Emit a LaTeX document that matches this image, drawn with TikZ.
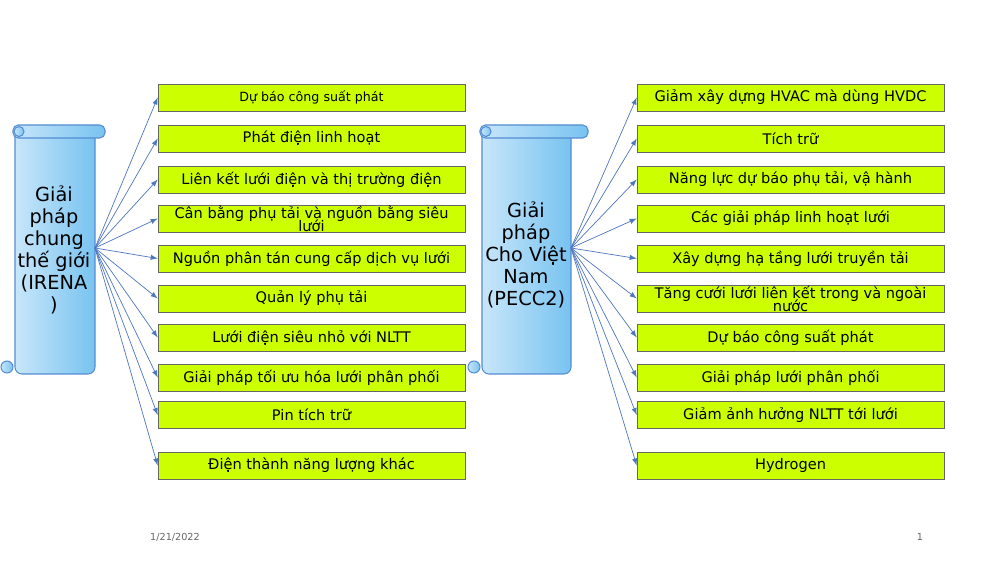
\documentclass[tikz,border=0pt]{standalone}
\usepackage{fontspec}
\setmainfont{DejaVu Sans}
\begin{document}
\begin{tikzpicture}[x=0.02cm,y=-0.02cm,
  box/.style={draw=black!60,fill={rgb,255:red,204;green,255;blue,0},minimum width=6.14cm,minimum height=0.54cm,inner sep=0pt,font=\fontsize{8.3}{8}\selectfont,align=center},
  arr/.style={draw={rgb,255:red,79;green,119;blue,190},-latex,line width=0.4pt},
  scroll/.style={draw={rgb,255:red,84;green,141;blue,212},line width=0.6pt,left color={rgb,255:red,200;green,230;blue,250},right color={rgb,255:red,120;green,195;blue,240}}]
\useasboundingbox (0,0) rectangle (1000,563);
\fill[white] (0,0) rectangle (1000,563);
% scrolls
\foreach \xa/\xb/\xc/\nm in {13/95/105/L,480/571/588/R}{
  \draw[scroll,rounded corners=4] (\xa+2,130) rectangle (\xb,374);
  \draw[scroll,rounded corners=3] (\xa,125) rectangle (\xc,138);
  \draw[scroll] (\xa+6,131.5) circle (5);
  \draw[scroll] (\xa-6,367) circle (6);
}
\coordinate (oL) at (95,248);
\coordinate (oR) at (571,248);
\node[font=\fontsize{11}{12.5}\selectfont,align=center] at (54,250) {Giải\\pháp\\chung\\thế giới\\(IRENA\\)};
\node[font=\fontsize{11}{12.5}\selectfont,align=center] at (526,255) {Giải\\pháp\\Cho Việt\\Nam\\(PECC2)};
% boxes
\foreach \i/\y/\t in {1/97.5/{\fontsize{7.2}{7}\selectfont Dự báo công suất phát},2/138.5/Phát điện linh hoạt,3/179.5/Liên kết lưới điện và thị trường điện,4/218.5/{Cân bằng phụ tải và nguồn bằng siêu\\[-2pt]lưới},5/258.5/Nguồn phân tán cung cấp dịch vụ lưới,6/298.5/Quản lý phụ tải,7/337.5/Lưới điện siêu nhỏ với NLTT,8/377.5/Giải pháp tối ưu hóa lưới phân phối,9/415/Pin tích trữ,10/465.5/Điện thành năng lượng khác}{
  \node[box] (l\i) at (311.5,\y) {\t};
  \draw[arr] (oL) -- (l\i.west);
}
\foreach \i/\y/\t in {1/97.5/Giảm xây dựng HVAC mà dùng HVDC,2/138.5/Tích trữ,3/179.5/{Năng lực dự báo phụ tải, vậ hành},4/218.5/Các giải pháp linh hoạt lưới,5/258.5/Xây dựng hạ tầng lưới truyền tải,6/298.5/{Tăng cưới lưới liên kết trong và ngoài\\[-2pt]nước},7/337.5/Dự báo công suất phát,8/377.5/Giải pháp lưới phân phối,9/415/Giảm ảnh hưởng NLTT tới lưới,10/465.5/Hydrogen}{
  \node[box] (r\i) at (790.5,\y) {\t};
  \draw[arr] (oR) -- (r\i.west);
}
\node[text=black!60,font=\fontsize{5.5}{6}\selectfont] (d) at (175,537) {1/21/2022};
\node[text=black!60,font=\fontsize{5.5}{6}\selectfont] (p) at (920,537) {1};
\end{tikzpicture}
\end{document}
